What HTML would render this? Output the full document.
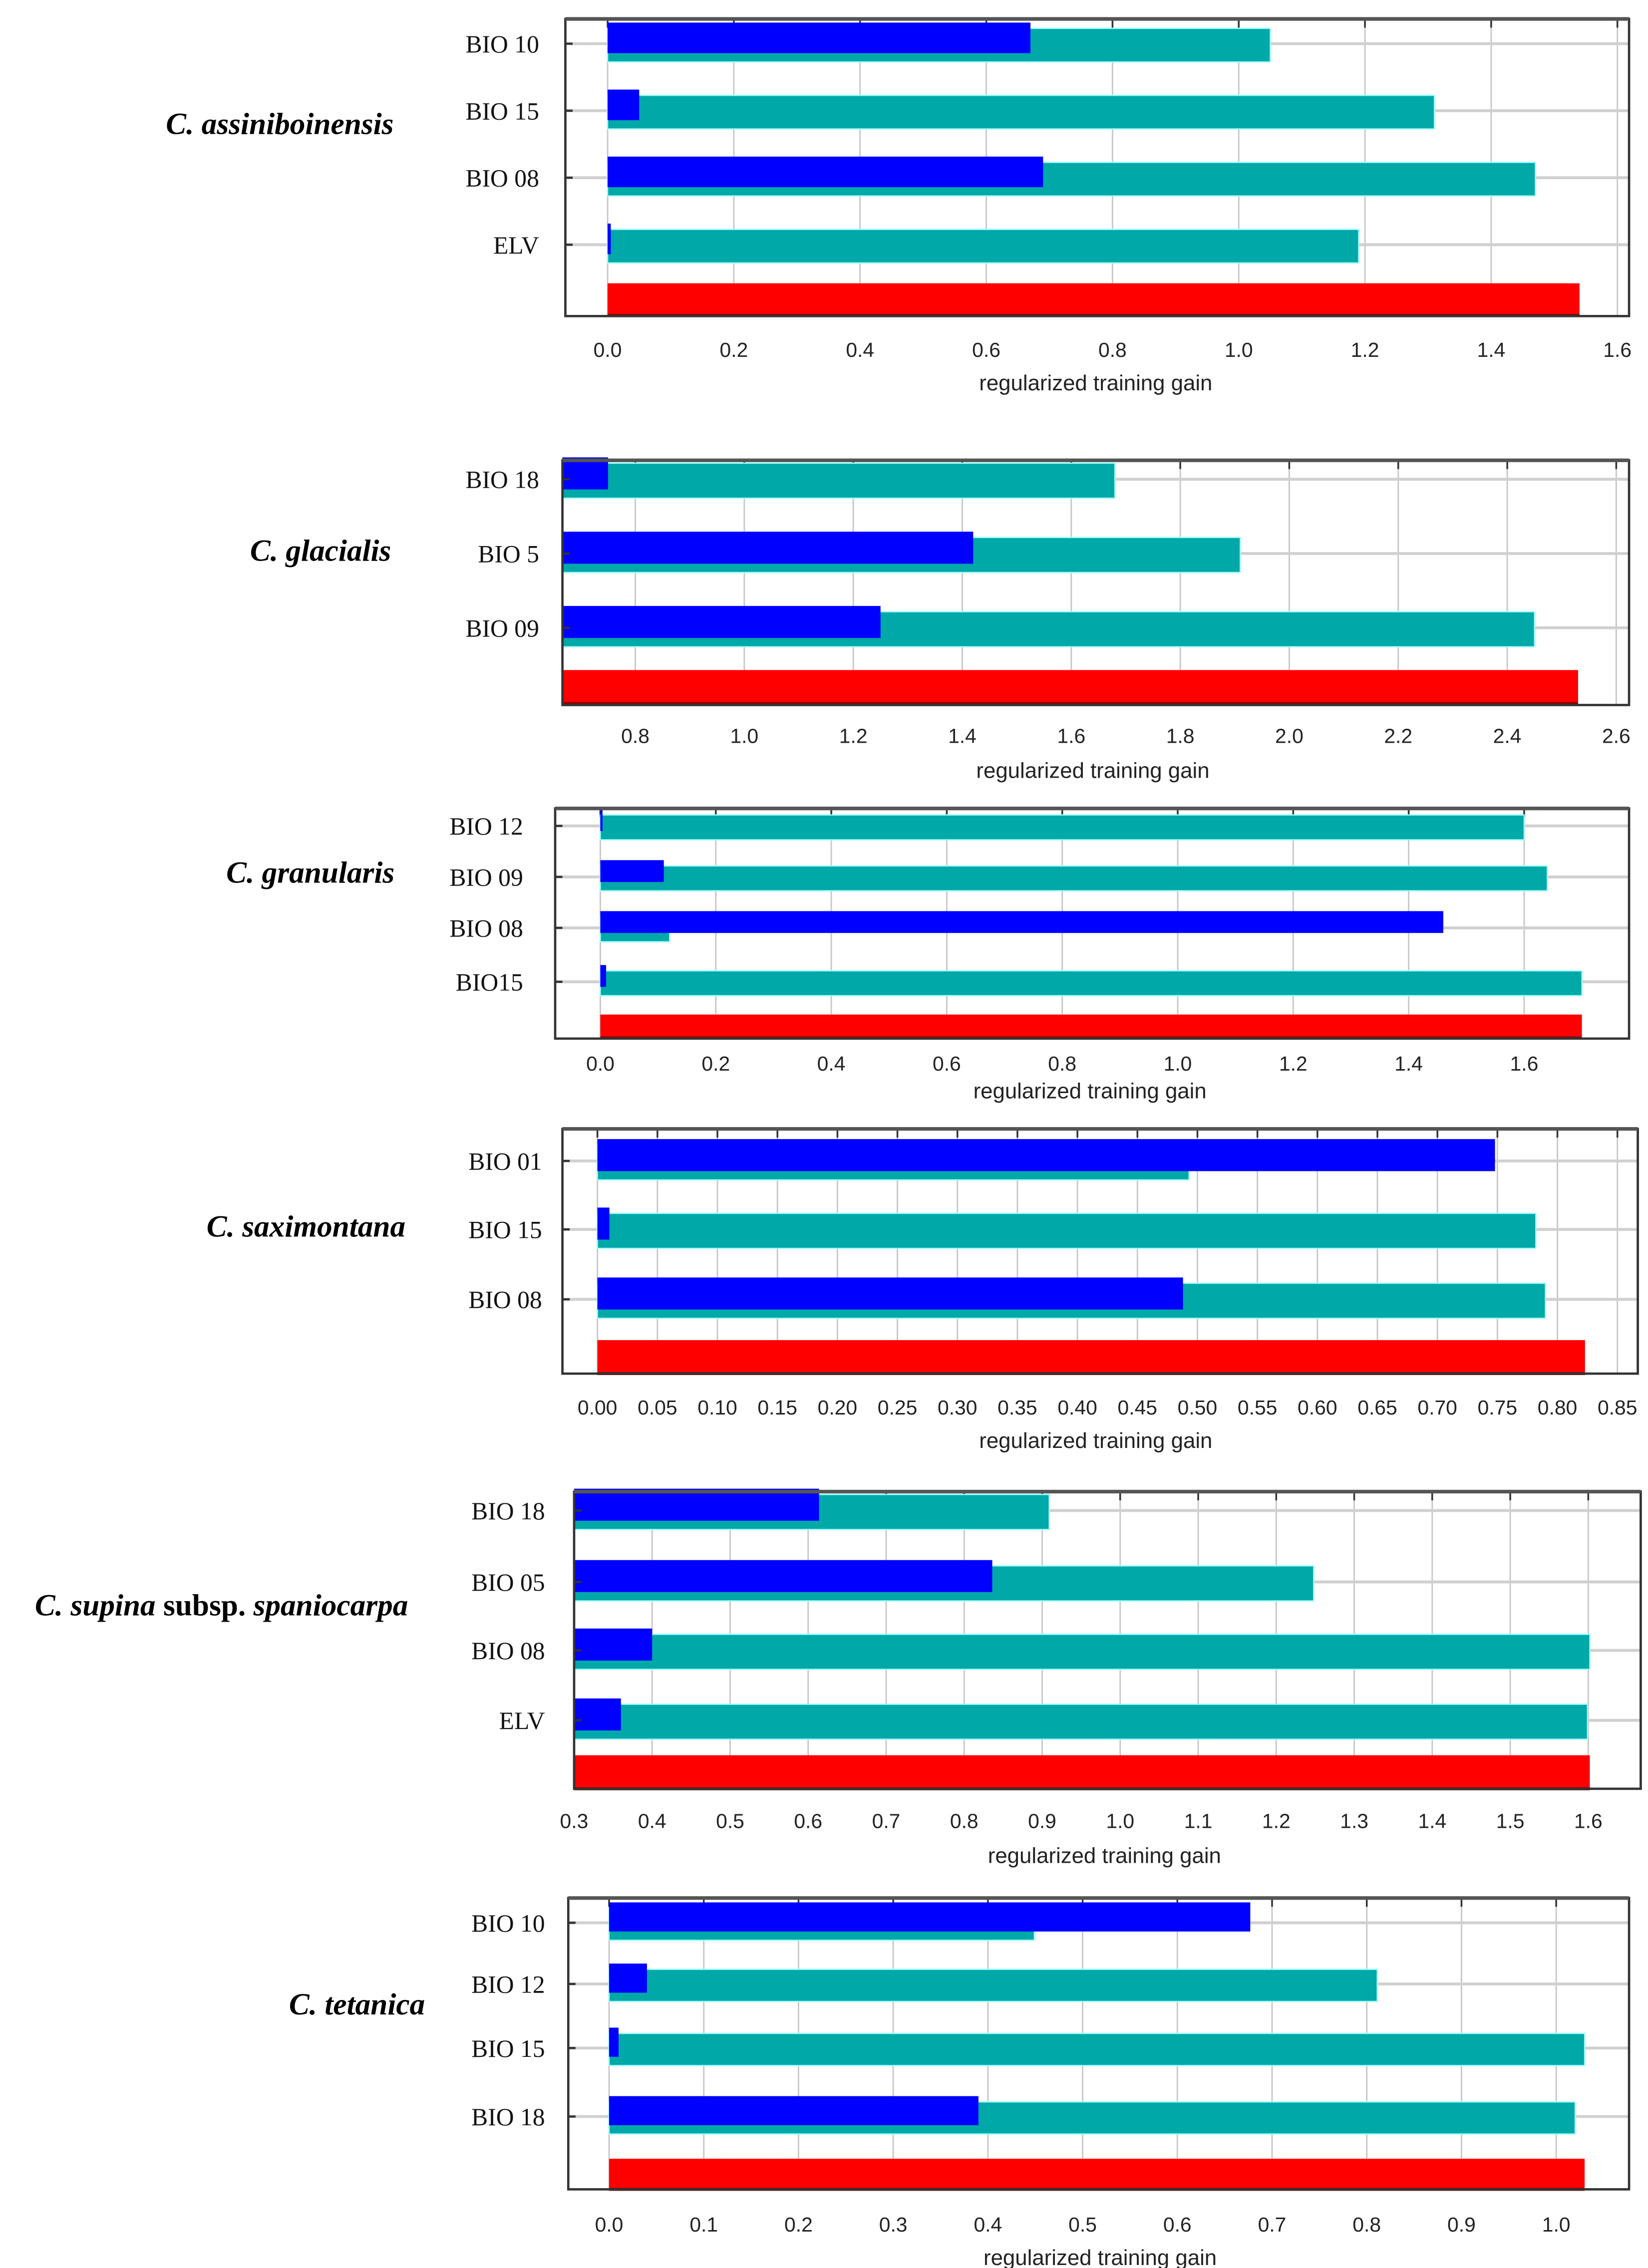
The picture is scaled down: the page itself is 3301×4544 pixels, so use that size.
<!DOCTYPE html>
<html><head><meta charset="utf-8"><style>
html,body{margin:0;padding:0;background:#fff;}
svg{display:block;}
.tick{font-family:"Liberation Sans",sans-serif;font-size:14px;fill:#222;text-anchor:middle;}
.xl{font-family:"Liberation Sans",sans-serif;font-size:15px;fill:#222;text-anchor:middle;}
.yl{font-family:"Liberation Serif",serif;font-size:17px;fill:#111;text-anchor:end;}
.sp{font-family:"Liberation Serif",serif;font-size:21px;font-weight:bold;fill:#000;text-anchor:middle;}
</style></head><body>
<svg id="fig" width="3301" height="4544" viewBox="0 0 1131 1557" preserveAspectRatio="none" xmlns="http://www.w3.org/2000/svg"></svg>
<script>
// Panel data
const p1Labels=["BIO 10","BIO 15","BIO 08","ELV"];
const p1Without=[0.67,0.05,0.69,0.005];
const p1Only=[1.05,1.31,1.47,1.19];
const p1All=1.54;
const p1Ticks=["0.0","0.2","0.4","0.6","0.8","1.0","1.2","1.4","1.6"];

const p2Labels=["BIO 18","BIO 5","BIO 09"];
const p2Without=[0.75,1.42,1.25];
const p2Only=[1.68,1.91,2.45];
const p2All=2.53;
const p2Ticks=["0.8","1.0","1.2","1.4","1.6","1.8","2.0","2.2","2.4","2.6"];

const p3Labels=["BIO 12","BIO 09","BIO 08","BIO15"];
const p3Without=[0.0,0.11,1.46,0.01];
const p3Only=[1.60,1.64,0.12,1.70];
const p3All=1.70;
const p3Ticks=["0.0","0.2","0.4","0.6","0.8","1.0","1.2","1.4","1.6"];

const p4Labels=["BIO 01","BIO 15","BIO 08"];
const p4Without=[0.748,0.01,0.488];
const p4Only=[0.493,0.782,0.79];
const p4All=0.823;
const p4Ticks=["0.00","0.05","0.10","0.15","0.20","0.25","0.30","0.35","0.40","0.45","0.50","0.55","0.60","0.65","0.70","0.75","0.80","0.85"];

const p5Labels=["BIO 18","BIO 05","BIO 08","ELV"];
const p5Without=[0.614,0.836,0.40,0.36];
const p5Only=[0.909,1.248,1.602,1.599];
const p5All=1.602;
const p5Ticks=["0.3","0.4","0.5","0.6","0.7","0.8","0.9","1.0","1.1","1.2","1.3","1.4","1.5","1.6"];

const p6Labels=["BIO 10","BIO 12","BIO 15","BIO 18"];
const p6Without=[0.677,0.04,0.01,0.39];
const p6Only=[0.449,0.811,1.03,1.02];
const p6All=1.03;
const p6Ticks=["0.0","0.1","0.2","0.3","0.4","0.5","0.6","0.7","0.8","0.9","1.0"];

const NS="http://www.w3.org/2000/svg";
const svg=document.getElementById('fig');
function mk(tag,attrs,parent){const e=document.createElementNS(NS,tag);for(const k in attrs)e.setAttribute(k,attrs[k]);(parent||svg).appendChild(e);return e;}

function panel(cfg){
  const g=mk('g',{});
  
  
  const x=v=>cfg.x0+(v-cfg.v0)*cfg.ppu;
  const base=(cfg.base!==undefined)?cfg.base:cfg.v0;
  const fr=mk('rect',{x:cfg.L,y:cfg.T,width:cfg.R-cfg.L,height:cfg.B-cfg.T,fill:'#fff'},g);
  
  
  cfg.ticks.forEach(t=>{
    const xv=x(parseFloat(t));
    const gl=mk('line',{x1:xv,x2:xv,y1:cfg.T,y2:cfg.B,stroke:'#c8c8c8','stroke-width':1},g);
    
    
    mk('line',{x1:xv,x2:xv,y1:cfg.T,y2:cfg.T+6,stroke:'#333','stroke-width':1.2},g);
    const tl=mk('text',{x:xv,y:cfg.tickY+5,class:'tick'},g);tl.textContent=t;
    
    
  });
  const h=cfg.h;
  cfg.labels.forEach((lab,i)=>{
    const c=cfg.rows[i];
    mk('line',{x1:cfg.L,x2:cfg.R,y1:c,y2:c,stroke:'#d0d0d0','stroke-width':2},g);
    const ot=mk('rect',{x:x(base),y:c-h/2+1,width:Math.max(0,x(cfg.only[i])-x(base)),height:h,fill:'#00a8a8',stroke:'#9ff','stroke-width':0.8},g);
    
    
    const wo=mk('rect',{x:x(base),y:c-h/2-3,width:Math.max(1.5,x(cfg.without[i])-x(base)),height:h-2,fill:'#0000ff'},g);
    
    
    const yl=mk('text',{x:cfg.labX,y:c+6,class:'yl'},g);yl.textContent=lab;
    
    
    mk('line',{x1:cfg.L,x2:cfg.L+5,y1:c,y2:c,stroke:'#333','stroke-width':1.5},g);
  });
  const rb=mk('rect',{x:x(base),y:cfg.redY-h/2,width:x(cfg.all)-x(base),height:h,fill:'#ff0000'},g);
  
  
  mk('rect',{x:x(base),y:cfg.redY+h/2-2,width:x(cfg.all)-x(base),height:2,fill:'#8b0000'},g);
  mk('rect',{x:cfg.L,y:cfg.T,width:cfg.R-cfg.L,height:cfg.B-cfg.T,fill:'none',stroke:'#333','stroke-width':1.6},g);
  mk('line',{x1:cfg.L,x2:cfg.R,y1:cfg.T,y2:cfg.T,stroke:'#555','stroke-width':2.5},g);
  const xt=mk('text',{x:cfg.xlX,y:cfg.xlY+5,class:'xl'},g);xt.textContent='regularized training gain';
  
  
  const sp=mk('text',{x:cfg.spX,y:cfg.spY+7,class:'sp'},g);
  sp.innerHTML=cfg.sp;
  
  
}

panel({id:'assiniboinensis',L:388,R:1118,T:13,B:217,x0:417,v0:0,ppu:(1110-417)/1.6,ticks:p1Ticks,tickY:240,xlX:752,xlY:263,
  labels:p1Labels,without:p1Without,only:p1Only,all:p1All,rows:[30,76,122,168],redY:206,h:23,labX:370,
  sp:'<tspan font-style="italic">C. assiniboinensis</tspan>',spX:192,spY:85});
panel({id:'glacialis',L:386,R:1118,T:316,B:484,x0:436,v0:0.8,ppu:374,base:0.666,ticks:p2Ticks,tickY:505,xlX:750,xlY:529,
  labels:p2Labels,without:p2Without,only:p2Only,all:p2All,rows:[329,380,431],redY:472,h:24,labX:370,
  sp:'<tspan font-style="italic">C. glacialis</tspan>',spX:220,spY:378});
panel({id:'granularis',L:381,R:1118,T:555,B:713,x0:412,v0:0,ppu:(1046-412)/1.6,ticks:p3Ticks,tickY:730,xlX:748,xlY:749,
  labels:p3Labels,without:p3Without,only:p3Only,all:p3All,rows:[567,602,637,674],redY:705,h:17,labX:359,
  sp:'<tspan font-style="italic">C. granularis</tspan>',spX:213,spY:599});
panel({id:'saximontana',L:386,R:1124,T:775,B:943,x0:410,v0:0,ppu:(1110-410)/0.85,ticks:p4Ticks,tickY:966,xlX:752,xlY:989,
  labels:p4Labels,without:p4Without,only:p4Only,all:p4All,rows:[797,844,892],redY:932,h:24,labX:372,
  sp:'<tspan font-style="italic">C. saximontana</tspan>',spX:210,spY:842});
panel({id:'supina',L:394,R:1126,T:1024,B:1228,x0:394,v0:0.3,ppu:(1090-394)/1.3,ticks:p5Ticks,tickY:1250,xlX:758,xlY:1274,
  labels:p5Labels,without:p5Without,only:p5Only,all:p5All,rows:[1037,1086,1133,1181],redY:1217,h:24,labX:374,
  sp:'<tspan font-style="italic">C. supina</tspan> subsp. <tspan font-style="italic">spaniocarpa</tspan>',spX:152,spY:1102});
panel({id:'tetanica',L:390,R:1118,T:1303,B:1503,x0:418,v0:0,ppu:650,ticks:p6Ticks,tickY:1527,xlX:755,xlY:1550,
  labels:p6Labels,without:p6Without,only:p6Only,all:p6All,rows:[1320,1362,1406,1453],redY:1493,h:22,labX:374,
  sp:'<tspan font-style="italic">C. tetanica</tspan>',spX:245,spY:1376});
</script>
</body></html>
